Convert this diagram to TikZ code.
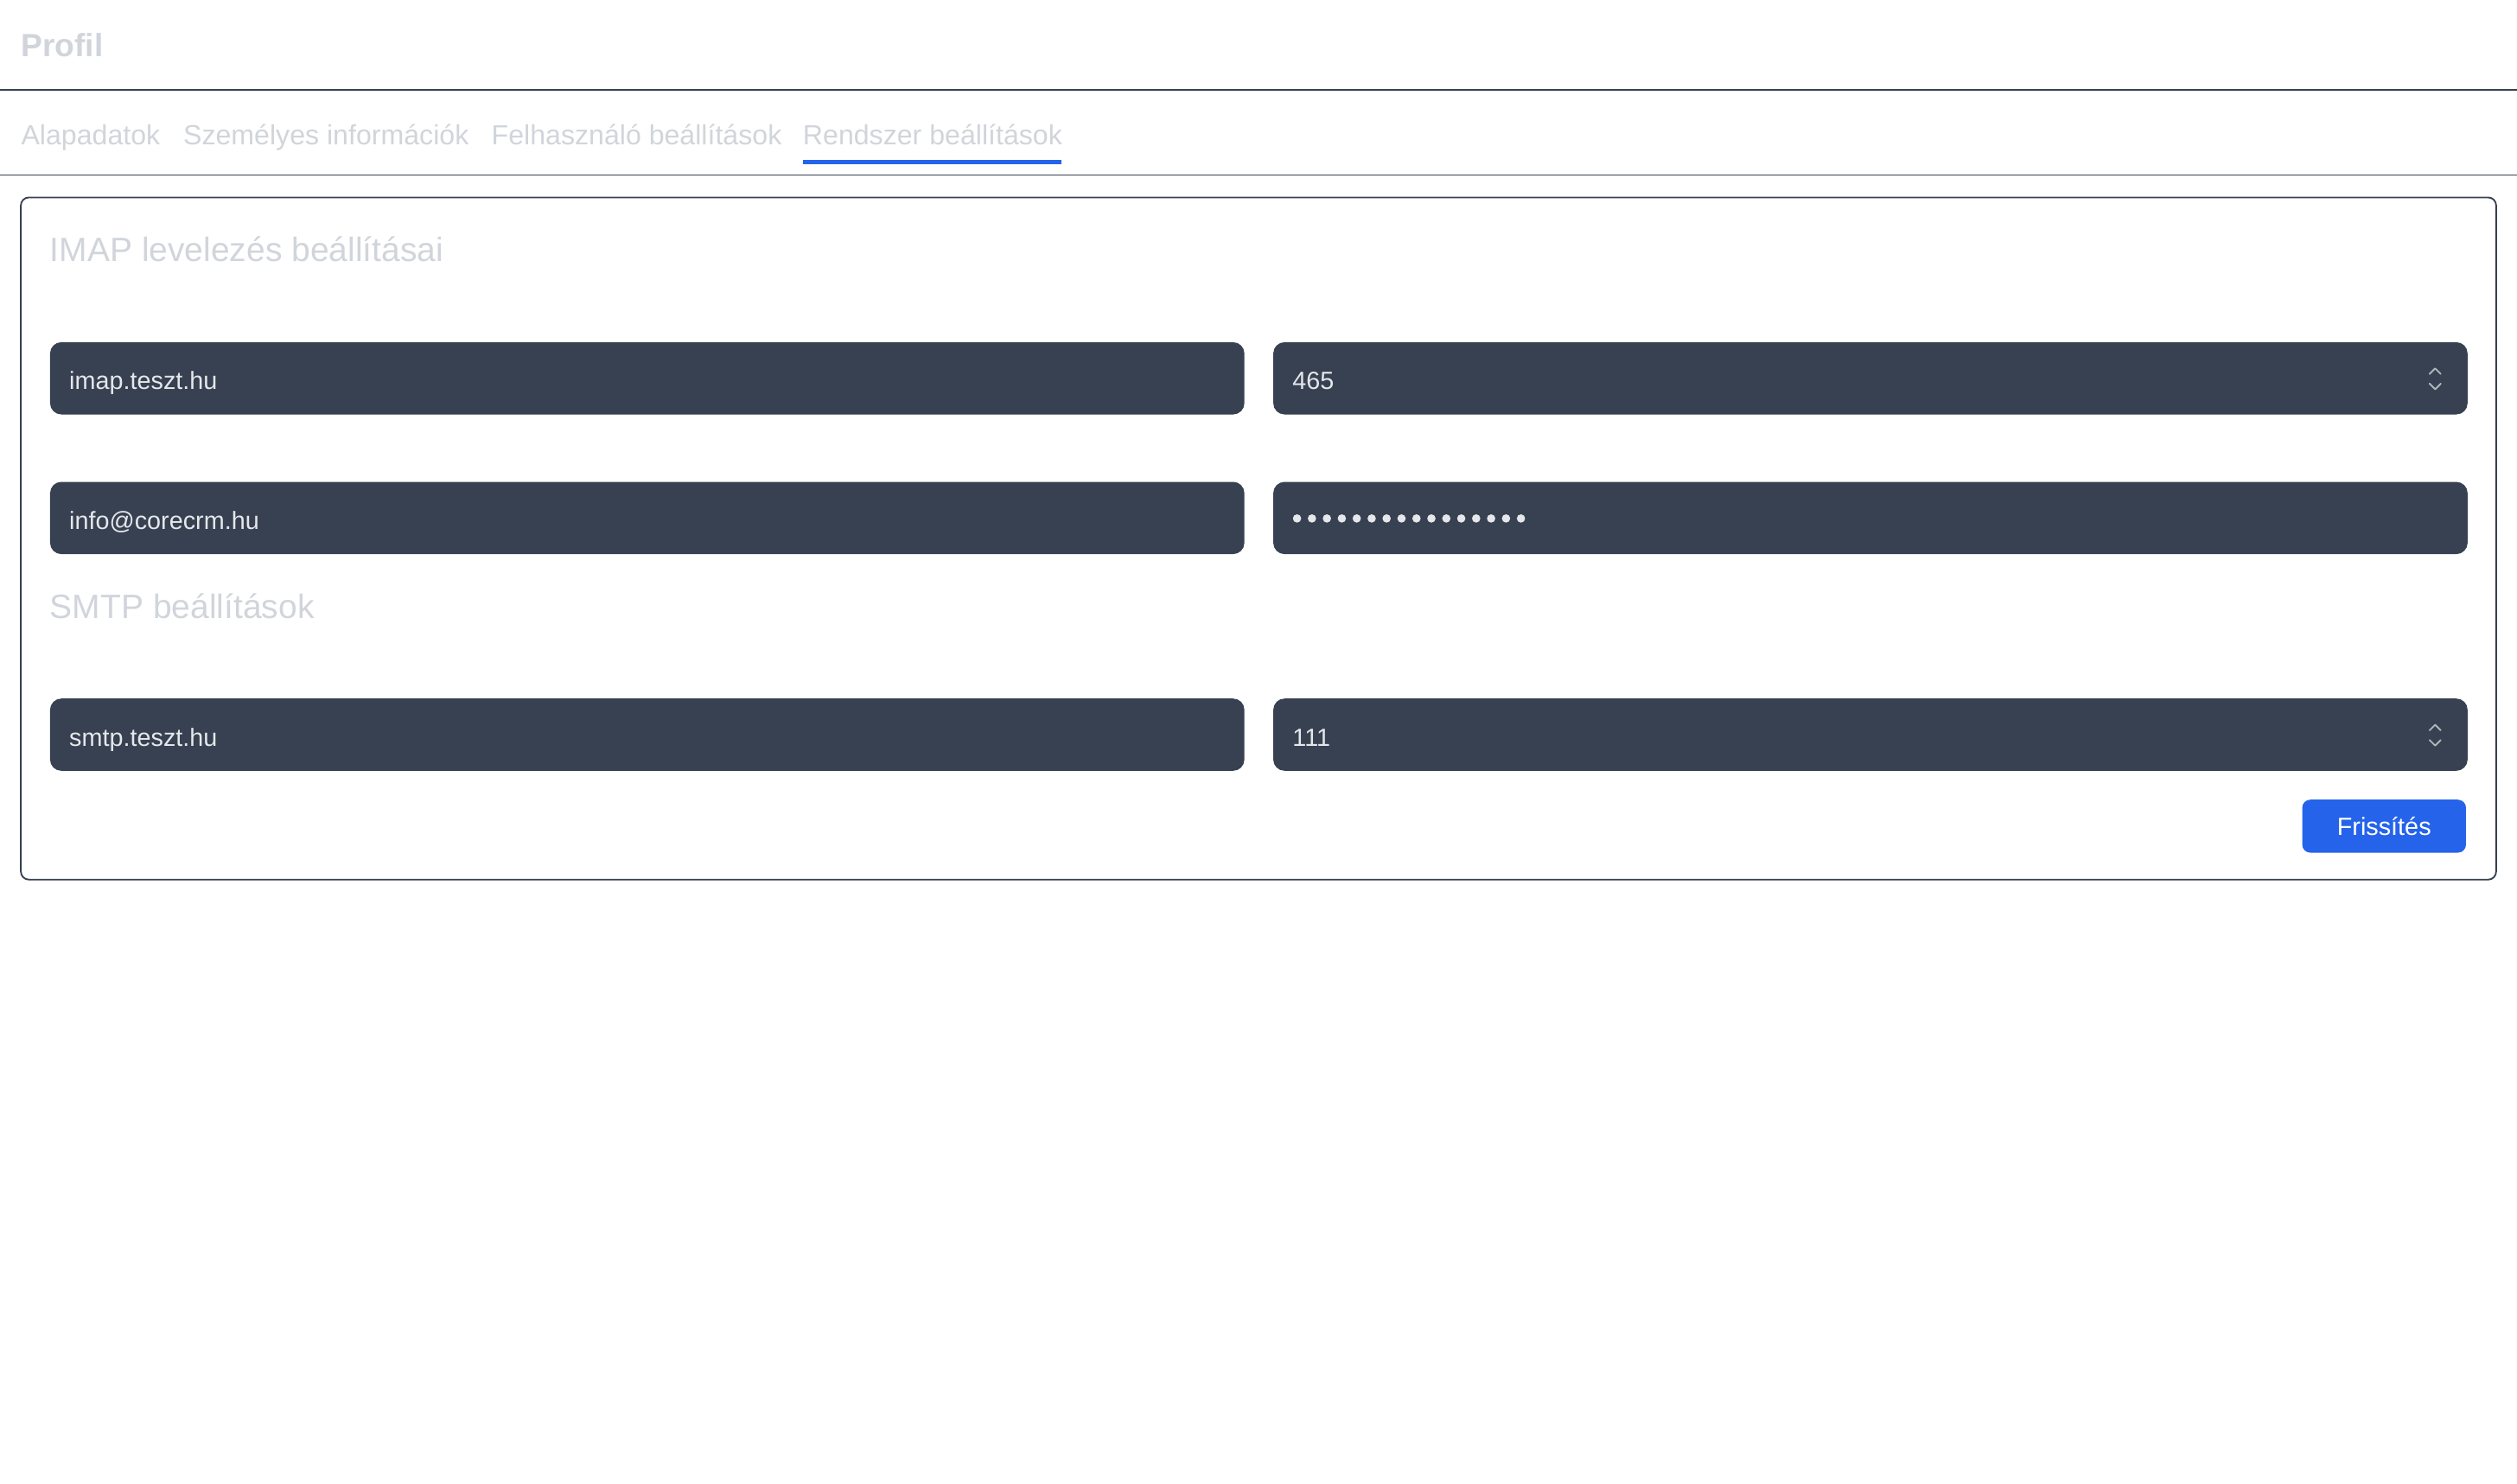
\documentclass[tikz,border=0pt]{standalone}
\usepackage{fontspec}
\setmainfont{Liberation Sans}
\usetikzlibrary{positioning}
\definecolor{fieldbg}{HTML}{374151}
\definecolor{faint}{HTML}{D1D5DB}
\definecolor{fieldtxt}{HTML}{E5E7EB}
\definecolor{rule}{HTML}{374151}
\definecolor{accent}{HTML}{2563EB}

\begin{document}
\begin{tikzpicture}[x=1pt,y=-1pt,
    label/.style ={anchor=west, inner sep=0pt, text height=0.72em, text depth=0.2em, yshift=-4.5pt},
    title/.style ={label, text=faint, font=\fontsize{20}{24}\selectfont\bfseries},
    tab/.style ={label, text=faint, font=\fontsize{17.3}{21}\selectfont},
    heading/.style ={label, text=faint, font=\fontsize{21}{25}\selectfont},
    field/.style ={rectangle, rounded corners=7pt, fill=fieldbg, draw=none,
      minimum width=744pt, minimum height=45pt, anchor=north west, inner sep=0pt},
    value/.style ={label, text=fieldtxt, font=\fontsize{15.5}{18}\selectfont},
    button/.style ={rectangle, rounded corners=5pt, fill=accent, text=white,
      minimum width=102pt, minimum height=33pt, anchor=north west, inner sep=0pt,
      font=\fontsize{15.5}{18}\selectfont},
    spin/.style ={draw=fieldtxt!70!fieldbg, line width=1pt, line cap=round, line join=round}]
    % page frame
    \useasboundingbox[fill=white] (0,0) rectangle (1568,924);
    % header
    \node [title] (profil) at (13,28) {Profil};
    \draw [rule, line width=1pt] (0,56) -- (1568,56);
    % tabs
    \node [tab] (alap) at (13,83) {Alapadatok};
    \node [tab] (szem) at (114,83) {Személyes információk};
    \node [tab] (felh) at (306,83) {Felhasználó beállítások};
    \node [tab] (rend) at (500,83) {Rendszer beállítások};
    \draw [accent, line width=2.5pt] (500,101) -- (661,101);
    \draw [rule, line width=1pt] (0,109) -- (1568,109);
    % card
    \draw [rule, line width=1pt, rounded corners=5pt] (13,123) rectangle (1555,548);
    \node [heading] (imap) at (31,156) {IMAP levelezés beállításai};
    % imap row 1
    \node [field] (imaphost) at (31,213) {};
    \node [value, right=12pt of imaphost.west] {imap.teszt.hu};
    \node [field] (imapport) at (793,213) {};
    \node [value, right=12pt of imapport.west] {465};
    \coordinate (spinA) at (1517,236);
    \draw [spin] ([xshift=-3.5pt,yshift=-3pt]spinA) -- ([yshift=-6.5pt]spinA) -- ([xshift=3.5pt,yshift=-3pt]spinA);
    \draw [spin] ([xshift=-3.5pt,yshift=3pt]spinA) -- ([yshift=6.5pt]spinA) -- ([xshift=3.5pt,yshift=3pt]spinA);
    % imap row 2
    \node [field] (imapuser) at (31,300) {};
    \node [value, right=12pt of imapuser.west] {info@corecrm.hu};
    \node [field] (imappass) at (793,300) {};
    \foreach \i in {0,...,15}
      \fill [fieldtxt] (808+\i*9.3,323) circle (2.6pt);
    % smtp
    \node [heading] (smtp) at (31,378) {SMTP beállítások};
    \node [field] (smtphost) at (31,435) {};
    \node [value, right=12pt of smtphost.west] {smtp.teszt.hu};
    \node [field] (smtpport) at (793,435) {};
    \node [value, right=12pt of smtpport.west] {111};
    \coordinate (spinB) at (1517,458);
    \draw [spin] ([xshift=-3.5pt,yshift=-3pt]spinB) -- ([yshift=-6.5pt]spinB) -- ([xshift=3.5pt,yshift=-3pt]spinB);
    \draw [spin] ([xshift=-3.5pt,yshift=3pt]spinB) -- ([yshift=6.5pt]spinB) -- ([xshift=3.5pt,yshift=3pt]spinB);
    % submit
    \node [button] (frissit) at (1434,498) {Frissítés};
\end{tikzpicture}
\end{document}
